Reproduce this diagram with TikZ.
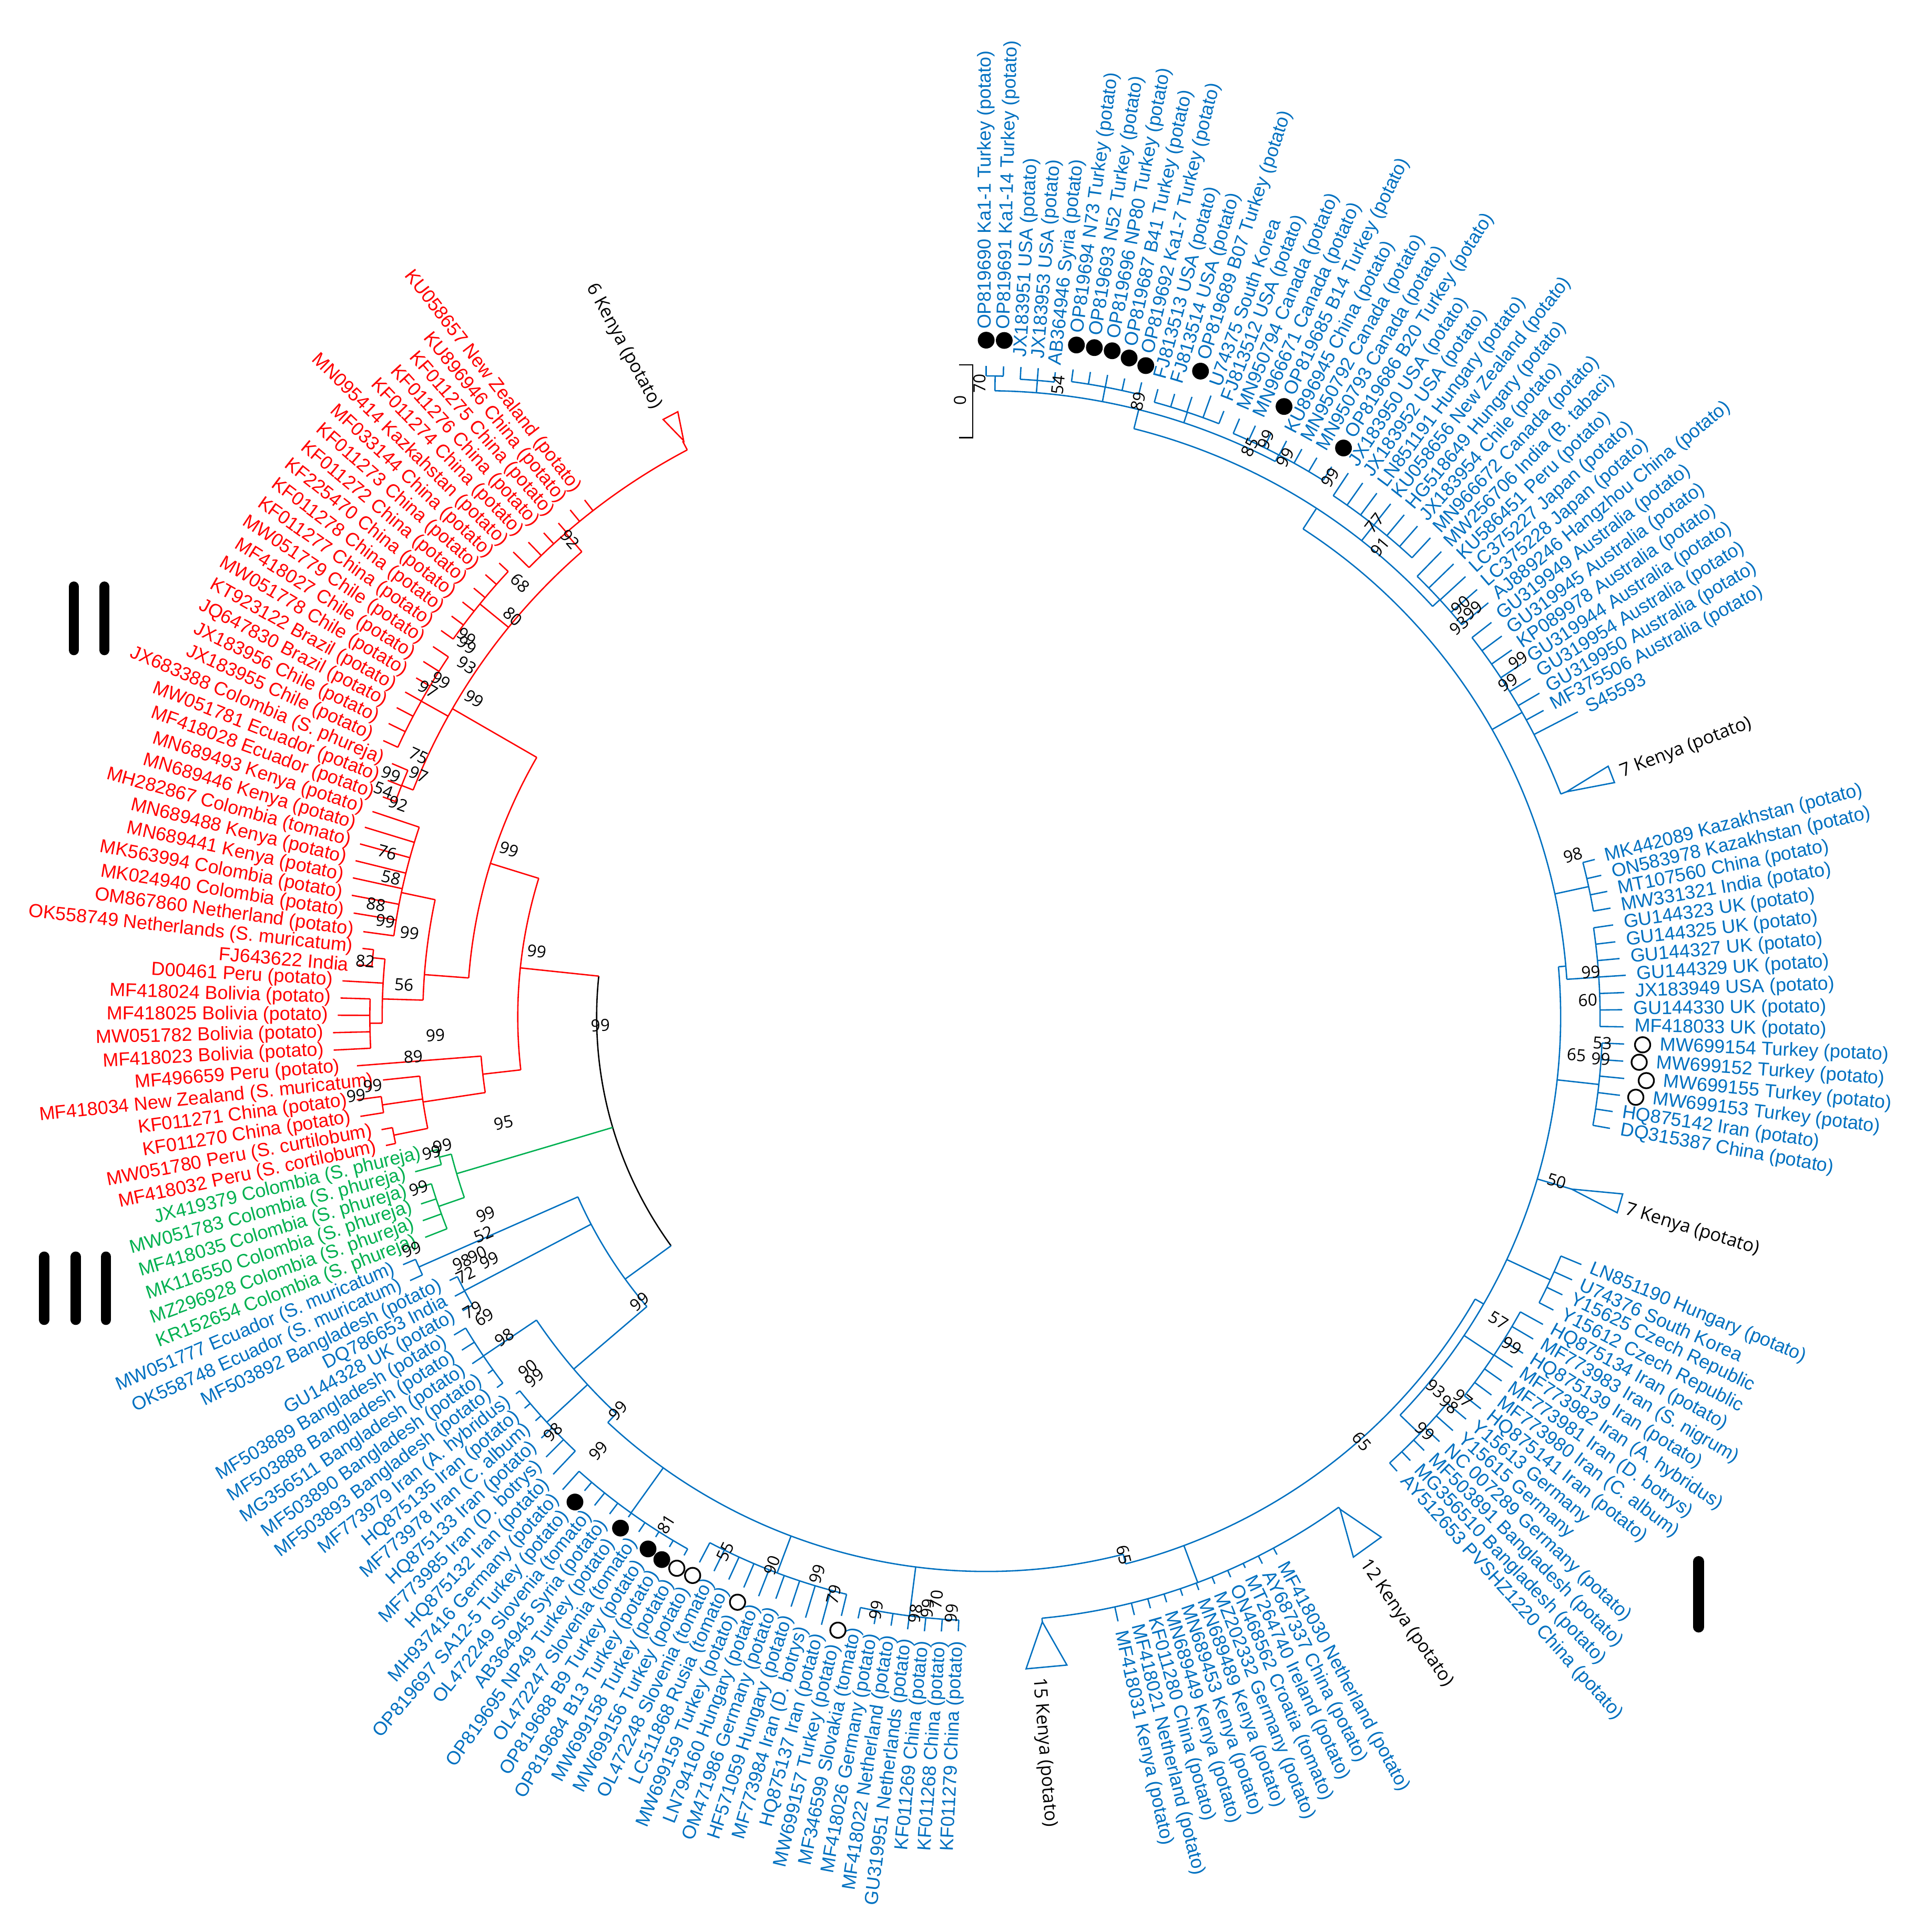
\documentclass[tikz,border=0pt]{standalone}
\usepackage{fontspec}
\setmainfont{Liberation Sans}
\newfontfamily\segoe{Open Sans}
\definecolor{tb}{RGB}{0,112,192}
\definecolor{tr}{RGB}{255,0,0}
\definecolor{tg}{RGB}{0,176,80}
\tikzset{
  lbl/.style={font=\fontsize{15.3}{17}\selectfont,inner sep=0pt,outer sep=0pt},
  klbl/.style={font=\segoe\fontsize{14.8}{16}\selectfont,inner sep=0pt,outer sep=0pt},
  bs/.style={font=\segoe\fontsize{13.5}{14}\selectfont,inner sep=0pt,text=black},
  br/.style={line width=1.1pt},
}
\newcounter{nc}
\newcommand\Radl[4]{\draw[br,#4] ({#1}:{#2}) -- ({#1}:{#3});}
\newcommand\Arcc[4]{\draw[br,#4] ({#2}:{#1}) arc[start angle={#2},end angle={#3},radius={#1}];}
\newcommand\Lbl[5]{%
  \stepcounter{nc}%
  \pgfmathsetmacro\la{mod(#2+720,360)}%
  \pgfmathtruncatemacro\side{(\la>90)&&(\la<270)}%
  \ifnum\side=1\relax
    \node[#1,text=#4,anchor=east,rotate=\la-180] (n\thenc) at ({#2}:{#3}) {#5};%
  \else
    \node[#1,text=#4,anchor=west,rotate=\la] (n\thenc) at ({#2}:{#3}) {#5};%
  \fi}
\newcommand\Lf[6]{\Radl{#1}{#2}{#3}{#5}\Lbl{lbl}{#1}{#4}{#5}{#6}}
\newcommand\Lfd[7]{\Radl{#1}{#2}{#3}{#6}\fill[black] ({#1}:{#4}) circle[radius=6.8];\Lbl{lbl}{#1}{#5}{#6}{#7}}
\newcommand\Lfo[7]{\Radl{#1}{#2}{#3}{#6}\draw[black,line width=1.4pt] ({#1}:{#4}) circle[radius=6.2];\Lbl{lbl}{#1}{#5}{#6}{#7}}
\newcommand\Tri[5]{\draw[br,#5] ({#1}:{#2}) -- ({#1+#4}:{#3}) -- ({#1-#4}:{#3}) -- cycle;}
\newcommand\Bsv[3]{%
  \stepcounter{nc}%
  \pgfmathsetmacro\ba{atan2(825-#2,#1-800)}%
  \pgfmathtruncatemacro\bside{(\ba>90)||(\ba<-90)}%
  \ifnum\bside=1\relax\pgfmathsetmacro\ba{\ba+180}\fi
  \node[bs,rotate=\ba] (n\thenc) at ({#1-800},{825-#2}) {#3};}
\begin{document}
\begin{tikzpicture}[x=1pt,y=1pt]
\useasboundingbox (-800,-742.5) rectangle (762,825);
% ---------------- root
\Arcc{316}{174}{216}{black}
% ---------------- red clade
\Radl{174}{316}{380}{tr}
\Arcc{380}{162.8}{186.5}{tr}
\Radl{162.8}{380}{421}{tr}
\Arcc{421}{150}{175.7}{tr}
\Radl{175.7}{421}{457}{tr}
\Arcc{457}{168}{178.3}{tr}
\Radl{178.3}{457}{490}{tr}
\Arcc{490}{174.5}{180.6}{tr}
\Radl{180.6}{490}{500}{tr}
\Arcc{500}{178.33}{182.92}{tr}
\Radl{174.5}{490}{500}{tr}
\Arcc{500}{173.74}{175.27}{tr}
\Radl{168}{457}{485}{tr}
\Arcc{485}{161.5}{172.21}{tr}
\Radl{150}{421}{500}{tr}
\Arcc{500}{131}{158.4}{tr}
\Radl{158.4}{500}{510}{tr}
\Arcc{510}{156.91}{159.97}{tr}
\Radl{150.8}{500}{525}{tr}
\Arcc{525}{146.2}{155.38}{tr}
\Radl{140.8}{500}{530}{tr}
\Arcc{530}{137.02}{144.67}{tr}
\Radl{131}{500}{520}{tr}
\Arcc{520}{117.8}{135.49}{tr}
\Radl{117.8}{520}{528}{tr}
\Tri{117.7}{528}{551}{0.7}{tr}
\Radl{186.5}{380}{411}{tr}
\Arcc{411}{184.45}{188.6}{tr}
\Radl{188.6}{411}{462}{tr}
\Arcc{462}{185.98}{191.3}{tr}
\Radl{188.3}{462}{495}{tr}
\Arcc{495}{187.51}{189.04}{tr}
\Radl{191.3}{462}{490}{tr}
\Arcc{490}{190.57}{192.1}{tr}
\Lf{192.10}{490}{498}{506}{tr}{MF418032 Peru (S. cortilobum)}
\Lf{190.57}{490}{499}{507}{tr}{MW051780 Peru (S. curtilobum)}
\Lf{189.04}{495}{514}{522}{tr}{KF011270 China (potato)}
\Lf{187.51}{495}{515}{523}{tr}{KF011271 China (potato)}
\Lf{185.98}{462}{492}{500}{tr}{MF418034 New Zealand (S. muricatum)}
\Lf{184.45}{411}{512}{526}{tr}{MF496659 Peru (potato)}
\Lf{182.92}{500}{530}{538}{tr}{MF418023 Bolivia (potato)}
\Lf{181.39}{500}{530}{538}{tr}{MW051782 Bolivia (potato)}
\Lf{179.86}{500}{526}{534}{tr}{MF418025 Bolivia (potato)}
\Lf{178.33}{500}{524}{532}{tr}{MF418024 Bolivia (potato)}
\Lf{176.80}{490}{523}{531}{tr}{D00461 Peru (potato)}
\Lf{175.27}{500}{511}{519}{tr}{FJ643622 India}
\Lf{173.74}{500}{509}{517}{tr}{OK558749 Netherlands (S. muricatum)}
\Lf{172.21}{485}{510}{518}{tr}{OM867860 Netherland (potato)}
\Lf{170.68}{485}{520}{528}{tr}{MK024940 Colombia (potato)}
\Lf{169.15}{485}{524}{532}{tr}{MK563994 Colombia (potato)}
\Lf{167.62}{485}{526}{534}{tr}{MN689441 Kenya (potato)}
\Lf{166.09}{485}{527}{535}{tr}{MN689488 Kenya (potato)}
\Lf{164.56}{485}{527}{535}{tr}{MH282867 Colombia (tomato)}
\Lf{163.03}{485}{527}{535}{tr}{MN689446 Kenya (potato)}
\Lf{161.50}{485}{525}{533}{tr}{MN689493 Kenya (potato)}
\Lf{159.97}{510}{521}{529}{tr}{MF418028 Ecuador (potato)}
\Lf{158.44}{510}{522}{530}{tr}{MW051781 Ecuador (potato)}
\Lf{156.91}{510}{524}{532}{tr}{JX683388 Colombia (S. phureja)}
\Lf{155.38}{525}{538}{548}{tr}{JX183955 Chile (potato)}
\Lf{153.85}{525}{540}{550}{tr}{JX183956 Chile (potato)}
\Lf{152.32}{525}{540}{550}{tr}{JQ647830 Brazil (potato)}
\Lf{150.79}{525}{540}{550}{tr}{KT923122 Brazil (potato)}
\Lf{149.26}{525}{538}{548}{tr}{MW051778 Chile (potato)}
\Lf{147.73}{525}{540}{550}{tr}{MF418027 Chile (potato)}
\Lf{146.20}{525}{540}{550}{tr}{MW051779 Chile (potato)}
\Lf{144.67}{530}{542}{552}{tr}{KF011277 China (potato)}
\Lf{143.14}{530}{542}{552}{tr}{KF011278 China (potato)}
\Lf{141.61}{530}{542}{552}{tr}{KF225470 China (potato)}
\Lf{140.08}{530}{542}{552}{tr}{KF011272 China (potato)}
\Lf{138.55}{530}{542}{552}{tr}{KF011273 China (potato)}
\Lf{137.02}{530}{540}{550}{tr}{MF033144 China (potato)}
\Lf{135.49}{520}{538}{548}{tr}{MN095414 Kazkahstan (potato)}
\Lf{133.96}{520}{535}{545}{tr}{KF011274 China (potato)}
\Lf{132.43}{520}{532}{542}{tr}{KF011276 China (potato)}
\Lf{130.90}{520}{530}{540}{tr}{KF011275 China (potato)}
\Lf{129.37}{520}{532}{542}{tr}{KU896946 China (potato)}
\Lf{127.84}{520}{531}{541}{tr}{KU058657 New Zealand (potato)}
\Lbl{klbl}{118.4}{562}{black}{6 Kenya (potato)}
% ---------------- green clade
\Radl{196.5}{316}{448}{tg}
\Arcc{448}{194.4}{199.1}{tg}
\Radl{194.4}{448}{458}{tg}
\Arcc{458}{193.61}{195.18}{tg}
\Radl{199.1}{448}{470}{tg}
\Arcc{470}{196.75}{201.46}{tg}
\Lf{193.61}{458}{464}{472}{tg}{JX419379 Colombia (S. phureja)}
\Lf{195.18}{458}{480}{488}{tg}{MW051783 Colombia (S. phureja)}
\Lf{196.75}{470}{483}{491}{tg}{MF418035 Colombia (S. phureja)}
\Lf{198.32}{470}{483}{491}{tg}{MK116550 Colombia (S. phureja)}
\Lf{199.89}{470}{486}{494}{tg}{MZ296928 Colombia (S. phureja)}
\Lf{201.46}{470}{489}{497}{tg}{KR152654 Colombia (S. phureja)}
% ---------------- blue clade backbone
\Radl{216}{316}{362}{tb}
\Arcc{362}{203.8}{220.5}{tb}
\Radl{203.8}{362}{503}{tb}
\Arcc{503}{203.03}{204.6}{tb}
\Radl{207.7}{362}{478}{tb}
\Arcc{478}{206.17}{209.31}{tb}
\Radl{220.5}{362}{440}{tb}
\Arcc{440}{214}{227}{tb}
\Radl{214}{440}{492}{tb}
\Arcc{492}{210.88}{217.16}{tb}
\Radl{222.7}{440}{485}{tb}
\Arcc{485}{218.73}{226.58}{tb}
\Radl{227}{440}{450}{tb}
\Arcc{450}{227}{284.3}{tb}
\Radl{234.4}{450}{495}{tb}
\Arcc{495}{228.15}{240.71}{tb}
\Radl{249.4}{450}{482}{tb}
\Arcc{482}{242.28}{256.41}{tb}
\Radl{262.7}{450}{490}{tb}
\Arcc{490}{257.98}{267.4}{tb}
\Radl{284.3}{450}{458}{tb}
\Arcc{458}{284.3}{330}{tb}
% bottom node arc carrying 15 Kenya, bottom group and 12 Kenya
\Radl{290.5}{458}{490}{tb}
\Arcc{490}{275.3}{305.7}{tb}
\Radl{275.3}{490}{493}{tb}
\Tri{275.3}{493}{530}{1.8}{tb}
\Radl{305.7}{490}{492}{tb}
\Tri{305.7}{492}{530}{1.5}{tb}
\Radl{330}{458}{466}{tb}
\Arcc{466}{316.1}{365}{tb}
\Radl{316.1}{466}{488}{tb}
\Arcc{488}{312.12}{320.02}{tb}
\Radl{326.3}{466}{495}{tb}
\Arcc{495}{321.6}{331.08}{tb}
\Radl{335}{466}{505}{tb}
\Arcc{505}{332.66}{337.4}{tb}
\Radl{343.6}{466}{495}{tb}
\Tri{343.6}{495}{536}{0.85}{tb}
\Radl{353.7}{466}{500}{tb}
\Arcc{500}{349.86}{357.56}{tb}
\Radl{5}{466}{472}{tb}
\Arcc{472}{3.7}{57}{tb}
\Radl{3.7}{472}{498}{tb}
\Arcc{498}{-0.9}{8.34}{tb}
\Radl{12.2}{472}{500}{tb}
\Arcc{500}{9.88}{14.5}{tb}
% top group T8 node arc carrying the upper 7 Kenya
\Radl{29.6}{472}{500}{tb}
\Arcc{500}{21.2}{37.98}{tb}
\Radl{21.2}{500}{505}{tb}
\Tri{21.2}{505}{544}{0.75}{tb}
\Radl{57}{472}{492}{tb}
\Arcc{492}{42.6}{75.9}{tb}
\Radl{42.6}{492}{500}{tb}
\Arcc{500}{39.51}{45.63}{tb}
\Radl{51.75}{492}{508}{tb}
\Arcc{508}{47.16}{56.34}{tb}
\Radl{75.9}{492}{508}{tb}
\Arcc{508}{62.5}{89.2}{tb}
\Radl{62.5}{508}{514}{tb}
\Arcc{514}{57.87}{67.05}{tb}
\Radl{71.6}{508}{517}{tb}
\Arcc{517}{68.58}{74.7}{tb}
\Radl{79.3}{508}{520}{tb}
\Arcc{520}{76.23}{82.35}{tb}
\Radl{85.4}{508}{518}{tb}
\Arcc{518}{83.88}{86.94}{tb}
\Radl{89.2}{508}{520}{tb}
\Arcc{520}{88.47}{90}{tb}
% ---------------- top group leaves
\Lfd{90.00}{520}{528}{549}{558}{tb}{OP819690 Ka1-1 Turkey (potato)}
\Lfd{88.47}{520}{528}{549}{558}{tb}{OP819691 Ka1-14 Turkey (potato)}
\Lf{86.94}{518}{528}{536}{tb}{JX183951 USA (potato)}
\Lf{85.41}{518}{528}{536}{tb}{JX183953 USA (potato)}
\Lf{83.88}{518}{526}{532}{tb}{AB364946 Syria (potato)}
\Lfd{82.35}{520}{530}{550}{560}{tb}{OP819694 N73 Turkey (potato)}
\Lfd{80.82}{520}{530}{550}{560}{tb}{OP819693 N52 Turkey (potato)}
\Lfd{79.29}{520}{530}{550}{560}{tb}{OP819696 NP80 Turkey (potato)}
\Lfd{77.76}{520}{530}{547}{557}{tb}{OP819687 B41 Turkey (potato)}
\Lfd{76.23}{520}{530}{544}{554}{tb}{OP819692 Ka1-7 Turkey (potato)}
\Lf{74.70}{517}{528}{537}{tb}{FJ813513 USA (potato)}
\Lf{73.17}{517}{528}{537}{tb}{FJ813514 USA (potato)}
\Lfd{71.64}{517}{530}{552}{562}{tb}{OP819689 B07 Turkey (potato)}
\Lf{70.11}{517}{536}{545}{tb}{U74375 South Korea}
\Lf{68.58}{517}{528}{537}{tb}{FJ813512 USA (potato)}
\Lf{67.05}{514}{527}{535}{tb}{MN950794 Canada (potato)}
\Lf{65.52}{514}{527}{535}{tb}{MN966671 Canada (potato)}
\Lfd{63.99}{514}{527}{551}{562}{tb}{OP819685 B14 Turkey (potato)}
\Lf{62.46}{514}{527}{535}{tb}{KU896945 China (potato)}
\Lf{60.93}{514}{527}{535}{tb}{MN950792 Canada (potato)}
\Lf{59.40}{514}{527}{535}{tb}{MN950793 Canada (potato)}
\Lfd{57.87}{514}{527}{545}{556}{tb}{OP819686 B20 Turkey (potato)}
\Lf{56.34}{508}{530}{538}{tb}{JX183950 USA (potato)}
\Lf{54.81}{508}{530}{538}{tb}{JX183952 USA (potato)}
\Lf{53.28}{508}{530}{538}{tb}{LN851191 Hungary (potato)}
\Lf{51.75}{508}{530}{538}{tb}{KU058656 New Zealand (potato)}
\Lf{50.22}{508}{530}{538}{tb}{HG518649 Hungary (potato)}
\Lf{48.69}{508}{530}{538}{tb}{JX183954 Chile (potato)}
\Lf{47.16}{508}{530}{538}{tb}{MN966672 Canada (potato)}
\Lf{45.63}{500}{528}{536}{tb}{MW256706 India (B. tabaci)}
\Lf{44.10}{500}{528}{536}{tb}{KU586451 Peru (potato)}
\Lf{42.57}{500}{528}{536}{tb}{LC375227 Japan (potato)}
\Lf{41.04}{500}{528}{536}{tb}{LC375228 Japan (potato)}
\Lf{39.51}{500}{528}{536}{tb}{AJ889246 Hangzhou China (potato)}
\Lf{37.98}{500}{520}{528}{tb}{GU319949 Australia (potato)}
\Lf{36.45}{500}{520}{528}{tb}{GU319945 Australia (potato)}
\Lf{34.92}{500}{520}{528}{tb}{KP089978 Australia (potato)}
\Lf{33.39}{500}{520}{528}{tb}{GU319944 Australia (potato)}
\Lf{31.86}{500}{520}{528}{tb}{GU319954 Australia (potato)}
\Lf{30.33}{500}{520}{528}{tb}{GU319950 Australia (potato)}
\Lf{28.80}{500}{516}{524}{tb}{MF375506 Australia (potato)}
\Lf{27.27}{500}{540}{548}{tb}{S45593}
\Lbl{klbl}{21.0}{552}{black}{7 Kenya (potato)}
% ---------------- right group
\Lf{14.50}{500}{510}{519}{tb}{MK442089 Kazakhstan (potato)}
\Lf{12.96}{500}{512}{521}{tb}{ON583978 Kazakhstan (potato)}
\Lf{11.42}{500}{514}{523}{tb}{MT107560 China (potato)}
\Lf{9.88}{500}{514}{523}{tb}{MW331321 India (potato)}
\Lf{8.34}{498}{514}{523}{tb}{GU144323 UK (potato)}
\Lf{6.80}{498}{514}{523}{tb}{GU144325 UK (potato)}
\Lf{5.26}{498}{516}{525}{tb}{GU144327 UK (potato)}
\Lf{3.72}{498}{520}{529}{tb}{GU144329 UK (potato)}
\Lf{2.18}{498}{518}{527}{tb}{JX183949 USA (potato)}
\Lf{0.64}{498}{516}{525}{tb}{GU144330 UK (potato)}
\Lf{-0.90}{498}{517}{526}{tb}{MF418033 UK (potato)}
\Lfo{-2.44}{500}{518}{533}{547}{tb}{MW699154 Turkey (potato)}
\Lfo{-3.98}{500}{518}{531}{545}{tb}{MW699152 Turkey (potato)}
\Lfo{-5.52}{500}{520}{538}{552}{tb}{MW699155 Turkey (potato)}
\Lfo{-7.06}{500}{518}{531}{545}{tb}{MW699153 Turkey (potato)}
\Lf{-8.60}{500}{514}{522}{tb}{HQ875142 Iran (potato)}
\Lf{-10.14}{500}{514}{523}{tb}{DQ315387 China (potato)}
\Lbl{klbl}{-16.8}{542}{black}{7 Kenya (potato)}
% ---------------- lower right group
\Lf{-22.60}{505}{523}{531}{tb}{LN851190 Hungary (potato)}
\Lf{-24.18}{505}{521}{529}{tb}{U74376 South Korea}
\Lf{-25.76}{505}{519}{527}{tb}{Y15625 Czech Republic}
\Lf{-27.34}{505}{518}{526}{tb}{Y15612 Czech Republic}
\Lf{-28.92}{495}{516}{524}{tb}{HQ875134 Iran (potato)}
\Lf{-30.50}{495}{515}{523}{tb}{MF773983 Iran (S. nigrum)}
\Lf{-32.08}{495}{514}{522}{tb}{HQ875139 Iran (potato)}
\Lf{-33.66}{495}{513}{521}{tb}{MF773982 Iran (A. hybridus)}
\Lf{-35.24}{495}{512}{520}{tb}{MF773981 Iran (D. botrys)}
\Lf{-36.82}{495}{512}{520}{tb}{MF773980 Iran (C. album)}
\Lf{-38.40}{495}{512}{520}{tb}{HQ875141 Iran (potato)}
\Lf{-39.98}{488}{508}{516}{tb}{Y15613 Germany}
\Lf{-41.56}{488}{506}{514}{tb}{Y15615 Germany}
\Lf{-43.14}{488}{504}{512}{tb}{NC 007289 Germany (potato)}
\Lf{-44.72}{488}{500}{508}{tb}{MF503891 Bangladesh (potato)}
\Lf{-46.30}{488}{498}{506}{tb}{MG356510 Bangladesh (potato)}
\Lf{-47.88}{488}{497}{505}{tb}{AY512653 PVSHZ1220 China (potato)}
\Lbl{klbl}{-55.3}{538}{black}{12 Kenya (potato)}
% ---------------- bottom group
\Lf{-61.60}{490}{496}{504}{tb}{MF418030 Netherland (potato)}
\Lf{-63.21}{490}{497}{505}{tb}{AY687337 China (potato)}
\Lf{-64.82}{490}{494}{502}{tb}{MT264740 Ireland (potato)}
\Lf{-66.43}{490}{496}{504}{tb}{ON468562 Croatia (tomato)}
\Lf{-68.04}{490}{496}{504}{tb}{MZ202332 Germany (potato)}
\Lf{-69.65}{490}{496}{504}{tb}{MN689489 Kenya (potato)}
\Lf{-71.26}{490}{496}{504}{tb}{MN689453 Kenya (potato)}
\Lf{-72.87}{490}{497}{505}{tb}{MN689449 Kenya (potato)}
\Lf{-74.48}{490}{498}{506}{tb}{KF011280 China (potato)}
\Lf{-76.09}{490}{500}{508}{tb}{MF418021 Netherland (potato)}
\Lf{-77.70}{490}{502}{510}{tb}{MF418031 Kenya (potato)}
\Lbl{klbl}{-85.5}{538}{black}{15 Kenya (potato)}
% ---------------- bottom-left group
\Lf{-92.60}{490}{499}{507}{tb}{KF011279 China (potato)}
\Lf{-94.17}{490}{500}{508}{tb}{KF011268 China (potato)}
\Lf{-95.74}{490}{501}{509}{tb}{KF011269 China (potato)}
\Lf{-97.31}{490}{501}{509}{tb}{GU319951 Netherlands (potato)}
\Lf{-98.88}{490}{500}{508}{tb}{MF418022 Netherland (potato)}
\Lf{-100.45}{490}{501}{509}{tb}{MF418026 Germany (potato)}
\Lf{-102.02}{490}{499}{507}{tb}{MF346599 Slovakia (tomato)}
\Lfo{-103.59}{482}{500}{512}{524}{tb}{MW699157 Turkey (potato)}
\Lf{-105.16}{482}{511}{519}{tb}{HQ875137 Iran (potato)}
\Lf{-106.73}{482}{509}{517}{tb}{MF773984 Iran (D. botrys)}
\Lf{-108.30}{482}{504}{512}{tb}{HF571059 Hungary (potato)}
\Lf{-109.87}{482}{502}{510}{tb}{OM471986 Germany (potato)}
\Lf{-111.44}{482}{505}{513}{tb}{LN794160 Hungary (potato)}
\Lfo{-113.01}{482}{503}{516}{528}{tb}{MW699159 Turkey (potato)}
\Lf{-114.58}{482}{502}{510}{tb}{LC511868 Rusia (tomato)}
\Lf{-116.15}{482}{501}{509}{tb}{OL472248 Slovenia (tomato)}
\Lfo{-117.72}{482}{500}{512}{524}{tb}{MW699156 Turkey (potato)}
\Lfo{-119.29}{495}{501}{513}{525}{tb}{MW699158 Turkey (potato)}
\Lfd{-120.86}{495}{501}{513}{525}{tb}{OP819684 B13 Turkey (potato)}
\Lfd{-122.43}{495}{500}{511.5}{524}{tb}{OP819688 B9 Turkey (potato)}
\Lf{-124.00}{495}{504}{512}{tb}{OL472247 Slovenia (tomato)}
\Lfd{-125.57}{495}{499}{510}{523}{tb}{OP819695 NP49 Turkey (potato)}
\Lf{-127.14}{495}{506}{514}{tb}{AB364945 Syria (potato)}
\Lf{-128.71}{495}{508}{516}{tb}{OL472249 Slovenia (tomato)}
\Lfd{-130.28}{495}{504}{516}{528}{tb}{OP819697 SA12-5 Turkey (potato)}
\Lf{-131.85}{495}{515}{523}{tb}{MH937416 Germany (potato)}
\Lf{-133.42}{485}{511}{519}{tb}{HQ875132 Iran (potato)}
\Lf{-134.99}{485}{505}{513}{tb}{MF773985 Iran (D. botrys)}
\Lf{-136.56}{485}{497}{505}{tb}{HQ875133 Iran (potato)}
\Lf{-138.13}{485}{491}{499}{tb}{MF773978 Iran (C. album)}
\Lf{-139.70}{485}{491}{499}{tb}{HQ875135 Iran (potato)}
\Lf{-141.27}{485}{489}{497}{tb}{MF773979 Iran (A. hybridus)}
\Lf{-142.84}{492}{498}{506}{tb}{MF503893 Bangladesh (potato)}
\Lf{-144.41}{492}{497}{505}{tb}{MF503890 Bangladesh (potato)}
\Lf{-145.98}{492}{503}{511}{tb}{MG356511 Bangladesh (potato)}
\Lf{-147.55}{492}{504}{512}{tb}{MF503888 Bangladesh (potato)}
\Lf{-149.12}{492}{503}{511}{tb}{MF503889 Bangladesh (potato)}
\Lf{-150.69}{478}{487}{495}{tb}{GU144328 UK (potato)}
\Lf{-152.26}{478}{487}{495}{tb}{DQ786653 India}
\Lf{-153.83}{478}{485}{493}{tb}{MF503892 Bangladesh (potato)}
\Lf{-155.40}{503}{514}{522}{tb}{OK558748 Ecuador (S. muricatum)}
\Lf{-156.97}{503}{514}{522}{tb}{MW051777 Ecuador (S. muricatum)}
% ---------------- bootstrap values
\node[bs,rotate=90] (s70) at (-5.2,514) {70};
\Bsv{858.5}{312.2}{54}
\Bsv{923.4}{325.7}{89}
\Bsv{1013.8}{362.8}{85}
\Bsv{1027}{356.5}{99}
\Bsv{1042.6}{371.2}{99}
\Bsv{1079.2}{387.3}{99}
\Bsv{1115}{424.4}{77}
\Bsv{1119.6}{443.9}{91}
\Bsv{1185}{491}{90}
\Bsv{1183.6}{507.6}{93}
\Bsv{1194.7}{495.2}{99}
\Bsv{1231.6}{535.8}{99}
\Bsv{1223.3}{553.8}{99}
\Bsv{1276}{693.7}{98}
\Bsv{1290.5}{788.6}{99}
\Bsv{1288}{811.4}{60}
\Bsv{1299.8}{846.3}{53}
\Bsv{1278.8}{856}{65}
\Bsv{1298.5}{859.3}{99}
\Bsv{1263}{958.4}{50}
\Bsv{1215.6}{1071.2}{57}
\Bsv{1226.3}{1091.8}{99}
\Bsv{1164.6}{1126.7}{93}
\Bsv{1175.6}{1139.5}{98}
\Bsv{1186.7}{1134.4}{97}
\Bsv{1155.8}{1161.2}{99}
\Bsv{1104.8}{1169.4}{65}
\Bsv{911.7}{1261.5}{65}
\Bsv{501.3}{1144.5}{99}
\Bsv{448.6}{1162}{98}
\Bsv{485.4}{1177.2}{99}
\Bsv{540.5}{1236.5}{81}
\Bsv{588.3}{1258.8}{55}
\Bsv{626.2}{1270}{90}
\Bsv{663}{1277}{99}
\Bsv{676.4}{1293.6}{79}
\Bsv{710.8}{1306.2}{99}
\Bsv{742.5}{1309}{98}
\Bsv{752.3}{1304.8}{99}
\Bsv{759.7}{1297.8}{70}
\Bsv{771.9}{1309}{99}
\Bsv{339.7}{964}{99}
\Bsv{394}{985.2}{99}
\Bsv{392.4}{1001.5}{52}
\Bsv{334}{1013.7}{99}
\Bsv{375}{1024}{98}
\Bsv{387.3}{1017.9}{90}
\Bsv{396.8}{1022.4}{99}
\Bsv{377.8}{1034.3}{72}
\Bsv{383.2}{1062.7}{79}
\Bsv{392.8}{1068.8}{69}
\Bsv{409}{1085}{98}
\Bsv{428.2}{1110.6}{90}
\Bsv{433.6}{1118}{99}
\Bsv{519}{1056}{99}
\Bsv{487}{832}{99}
\Bsv{323.2}{652.2}{92}
\Bsv{311}{641}{54}
\Bsv{314.3}{691.6}{76}
\Bsv{317.2}{712}{58}
\Bsv{413}{689}{99}
\Bsv{305.3}{733.8}{88}
\Bsv{312.7}{747.4}{99}
\Bsv{332.2}{756.9}{99}
\Bsv{435.5}{771.9}{99}
\Bsv{296.3}{780}{82}
\Bsv{327.7}{799}{56}
\Bsv{353.2}{839.9}{99}
\Bsv{335.2}{857.5}{89}
\Bsv{302.3}{880.7}{99}
\Bsv{288.8}{888.9}{99}
\Bsv{408.5}{910.7}{95}
\Bsv{359.1}{929.7}{99}
\Bsv{350.2}{935}{99}
\Bsv{462.4}{437.7}{92}
\Bsv{422}{473}{68}
\Bsv{416}{500.3}{80}
\Bsv{378.6}{516.6}{99}
\Bsv{378.6}{523.5}{99}
\Bsv{378.6}{539.8}{93}
\Bsv{357.6}{552}{99}
\Bsv{347.1}{559}{97}
\Bsv{384.6}{567}{99}
\Bsv{339.7}{613.3}{75}
\Bsv{317.2}{628.3}{99}
\Bsv{339.7}{628.3}{97}
% ---------------- scale bar
\draw[line width=1.1pt,black] (-22,529) -- (-11,529) -- (-11,470) -- (-22,470);
\node[bs,rotate=90] (s0) at (-21,500) {0};
% ---------------- clade bars
\draw[line width=8.4pt,line cap=round] (-740.1,297.6) -- (-740.1,349);
\draw[line width=8.4pt,line cap=round] (-715.3,297.6) -- (-715.3,349);
\draw[line width=8.4pt,line cap=round] (-764.1,-194.6) -- (-764.1,-245.8);
\draw[line width=8.4pt,line cap=round] (-738.6,-194.6) -- (-738.6,-245.8);
\draw[line width=8.4pt,line cap=round] (-714.1,-194.6) -- (-714.1,-245.8);
\draw[line width=8.8pt,line cap=round] (578,-441.9) -- (578,-495.1);
\end{tikzpicture}
\end{document}
